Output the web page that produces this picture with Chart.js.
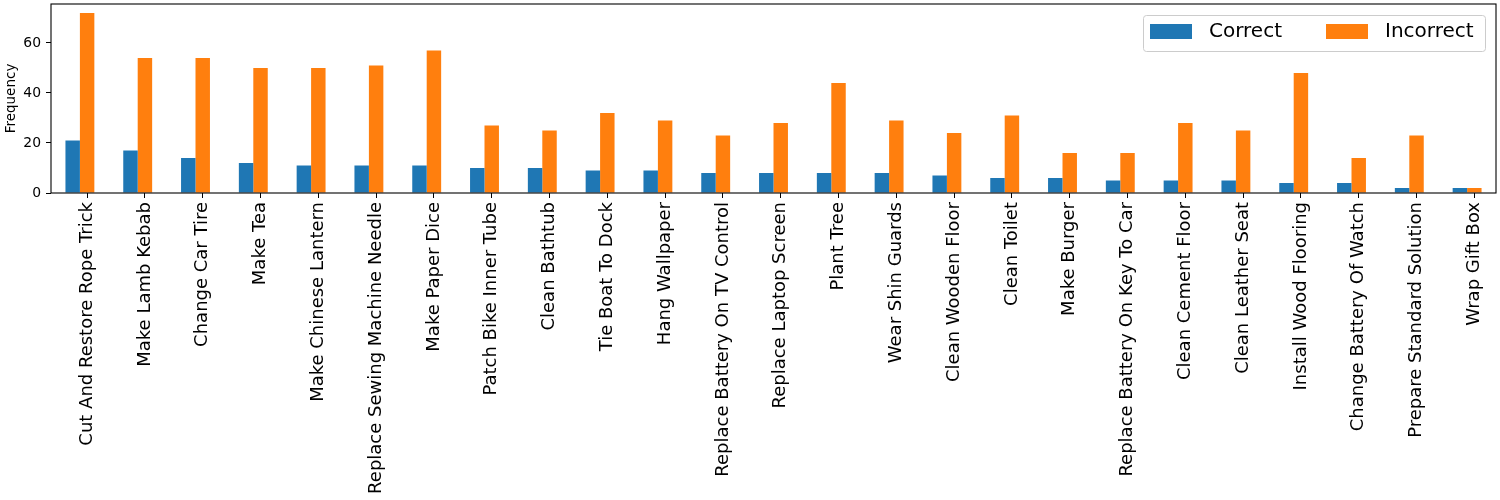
<!DOCTYPE html>
<html>
<head>
<meta charset="utf-8">
<script src="https://cdn.jsdelivr.net/npm/chart.js@4.4.0/dist/chart.umd.min.js"></script>
<style>
  html, body { margin: 0; padding: 0; background: #fff; }
  #wrap { width: 1500px; height: 500px; position: relative; }
</style>
</head>
<body>
<div id="wrap"><canvas id="c" width="1500" height="500"></canvas></div>
<script>
const categories = [
  "Cut And Restore Rope Trick", "Make Lamb Kebab", "Change Car Tire", "Make Tea",
  "Make Chinese Lantern", "Replace Sewing Machine Needle", "Make Paper Dice",
  "Patch Bike Inner Tube", "Clean Bathtub", "Tie Boat To Dock", "Hang Wallpaper",
  "Replace Battery On TV Control", "Replace Laptop Screen", "Plant Tree",
  "Wear Shin Guards", "Clean Wooden Floor", "Clean Toilet", "Make Burger",
  "Replace Battery On Key To Car", "Clean Cement Floor", "Clean Leather Seat",
  "Install Wood Flooring", "Change Battery Of Watch", "Prepare Standard Solution",
  "Wrap Gift Box"
];
const correct = [21, 17, 14, 12, 11, 11, 11, 10, 10, 9, 9, 8, 8, 8, 8, 7, 6, 6, 5, 5, 5, 4, 4, 2, 2];
const incorrect = [72, 54, 54, 50, 50, 51, 57, 27, 25, 32, 29, 23, 28, 44, 29, 24, 31, 16, 16, 28, 25, 48, 14, 23, 2];
const seriesNames = ["Correct", "Incorrect"];
const yTicks = [0, 20, 40, 60];
const yMax = 75.6;

const FONT = "'DejaVu Sans', sans-serif";

const frame = {
  id: 'frame',
  afterDraw(chart) {
    const { ctx, chartArea: a } = chart;
    ctx.save();
    ctx.strokeStyle = '#000';
    ctx.lineWidth = 1.1;
    ctx.strokeRect(a.left, a.top, a.right - a.left, a.bottom - a.top);
    // legend inside the plot (upper right)
    const bx = 1143, by = 15, bw = 342, bh = 36;
    ctx.beginPath();
    if (ctx.roundRect) ctx.roundRect(bx + 0.5, by + 0.5, bw, bh, 3); else ctx.rect(bx + 0.5, by + 0.5, bw, bh);
    ctx.fillStyle = 'rgba(255,255,255,0.8)';
    ctx.fill();
    ctx.strokeStyle = '#cccccc';
    ctx.lineWidth = 1;
    ctx.stroke();
    const items = chart.data.datasets;
    const patchX = [1150, 1326];
    const textX = [1209, 1385];
    ctx.font = '20px ' + FONT;
    ctx.textBaseline = 'middle';
    ctx.textAlign = 'left';
    items.forEach((ds, i) => {
      ctx.fillStyle = ds.backgroundColor;
      ctx.fillRect(patchX[i], 24, 42, 15);
      ctx.fillStyle = '#000';
      ctx.fillText(ds.label, textX[i], 32);
    });
    ctx.restore();
  }
};

new Chart(document.getElementById('c'), {
  type: 'bar',
  data: {
    labels: categories,
    datasets: [
      { label: seriesNames[0], data: correct, backgroundColor: '#1f77b4', xAxisID: 'x' },
      { label: seriesNames[1], data: incorrect, backgroundColor: '#ff7f0e', xAxisID: 'x' }
    ]
  },
  options: {
    responsive: false,
    animation: false,
    devicePixelRatio: 1,
    layout: { padding: { top: 4, right: 4, left: 0, bottom: 0 } },
    datasets: { bar: { categoryPercentage: 0.5, barPercentage: 1.0 } },
    plugins: { legend: { display: false }, tooltip: { enabled: false } },
    scales: {
      x: {
        type: 'category',
        offset: true,
        display: false
      },
      xl: {
        type: 'linear',
        position: 'bottom',
        offset: false,
        min: -0.625,
        max: categories.length - 1 + 0.375,
        afterBuildTicks(scale) { scale.ticks = categories.map((c, i) => ({ value: i })); },
        grid: { display: true, offset: false, drawOnChartArea: false, tickLength: 5, color: '#000', tickWidth: 1 },
        border: { display: false },
        ticks: {
          autoSkip: false, maxRotation: 90, minRotation: 90, padding: 4,
          color: '#000', font: { family: FONT, size: 18 },
          callback: (v) => categories[v]
        },
        afterFit(scale) { scale.height = 307; scale.paddingLeft = 0; scale.paddingRight = 0; }
      },
      y: {
        min: 0, max: yMax,
        afterBuildTicks(scale) { scale.ticks = yTicks.map(v => ({ value: v })); },
        grid: { display: true, drawOnChartArea: false, tickLength: 5, color: '#000', tickWidth: 1 },
        border: { display: false },
        ticks: { color: '#000', padding: 5, font: { family: FONT, size: 13.9 } },
        title: { display: true, text: 'Frequency', color: '#000', padding: { top: 3, bottom: 0 }, font: { family: FONT, size: 13.5 } },
        afterFit(scale) { scale.width = 51; scale.paddingTop = 0; scale.paddingBottom = 0; }
      }
    }
  },
  plugins: [frame]
});
</script>
</body>
</html>
